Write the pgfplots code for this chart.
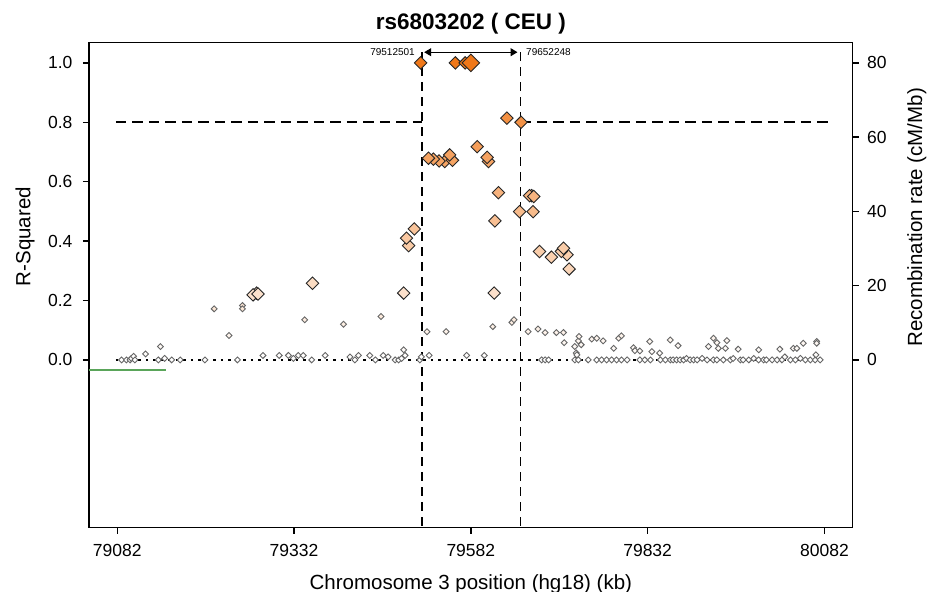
\documentclass[border=0pt]{standalone}
\usepackage{pgfplots}
\pgfplotsset{compat=1.18}
\usepackage{pgfplotstable}
\usepackage{fontspec}
\setmainfont{Liberation Sans}
\usetikzlibrary{arrows.meta}

\definecolor{snaporange}{RGB}{240,120,25}
\definecolor{recgreen}{RGB}{90,165,90}
\newcommand\tickfont{\fontsize{17.5}{20}\selectfont}
\newcommand\labfont{\fontsize{20.5}{24}\selectfont}

% SNPs with r^2 < 0.2 (small markers)
\pgfplotstableread{
kb rsq
79088 0.0
79095 0.0
79100 0.0
79102 0.005
79105 0.012
79107 0.0
79122 0.02
79140 0.0
79143 0.045
79149 0.005
79159 0.0
79171 0.0
79206 0.0
79219 0.172
79240 0.082
79252 0.0
79259 0.183
79259 0.172
79288 0.015
79311 0.015
79324 0.015
79331 0.005
79338 0.015
79345 0.015
79347 0.135
79357 0.0
79376 0.015
79402 0.120
79411 0.01
79418 0.0
79423 0.015
79439 0.015
79447 0.0
79455 0.146
79458 0.015
79465 0.01
79475 0.0
79480 0.0
79484 0.005
79487 0.034
79489 0.015
79510 0.0
79512 0.01
79520 0.095
79523 0.015
79547 0.095
79576 0.015
79601 0.015
79613 0.112
79640 0.126
79643 0.135
79663 0.095
79677 0.104
79682 0.0
79687 0.092
79687 0.0
79692 0.0
79703 0.092
79713 0.092
79714 0.058
79729 0.0
79729 0.045
79731 0.023
79732 0.017
79734 0.0
79734 0.064
79735 0.079
79738 0.051
79748 0.0
79753 0.070
79760 0.073
79760 0.0
79767 0.0
79769 0.064
79774 0.0
79781 0.0
79784 0.039
79788 0.0
79791 0.073
79795 0.081
79795 0.0
79803 0.0
79812 0.041
79814 0.031
79821 0.030
79821 0.0
79828 0.0
79835 0.062
79836 0.0
79838 0.028
79849 0.023
79850 0.0
79857 0.0
79864 0.067
79864 0.0
79868 0.0
79873 0.0
79875 0.048
79878 0.0
79883 0.0
79887 0.005
79892 0.0
79897 0.0
79902 0.0
79909 0.005
79916 0.0
79918 0.045
79925 0.073
79925 0.0
79930 0.058
79930 0.0
79932 0.039
79939 0.0
79942 0.039
79944 0.065
79949 0.0
79953 0.005
79960 0.036
79963 0.0
79967 0.0
79975 0.0
79982 0.005
79989 0.034
79989 0.0
79996 0.0
80000 0.0
80008 0.0
80015 0.0
80019 0.036
80022 0.0
80026 0.01
80034 0.0
80038 0.039
80041 0.0
80043 0.039
80048 0.005
80052 0.056
80055 0.0
80062 0.0
80069 0.0
80070 0.017
80071 0.062
80071 0.056
80076 0.0
}\lowsnps

% SNPs with r^2 >= 0.2 (large markers), ascending r^2
\pgfplotstableread{
kb rsq
79279 0.225
79274 0.219
79281 0.222
79487 0.225
79615 0.225
79358 0.258
79721 0.306
79696 0.346
79718 0.354
79679 0.365
79710 0.365
79713 0.376
79494 0.385
79491 0.410
79502 0.441
79616 0.468
79651 0.499
79670 0.499
79668 0.553
79665 0.553
79671 0.550
79621 0.563
79545 0.668
79607 0.668
79537 0.670
79556 0.672
79529 0.676
79522 0.679
79605 0.682
79552 0.690
79591 0.718
79653 0.800
79633 0.814
79511 1.0
79560 1.0
79574 1.0
}\highsnps

\begin{document}
\begin{tikzpicture}
\path[use as bounding box] (-89pt,-64.3pt) rectangle (841pt,527.7pt);
\begin{axis}[
  at={(0,0)}, anchor=south west,
  scale only axis, width=763.7pt, height=485pt,
  xmin=79042, xmax=80122, ymin=-0.565, ymax=1.068,
  xtick={79082,79332,79582,79832,80082},
  ytick={0,0.2,0.4,0.6,0.8,1.0},
  xtick pos=left, ytick pos=left,
  scaled x ticks=false,
  xticklabel={\pgfmathprintnumber[1000 sep={}]{\tick}},
  yticklabel={\pgfmathprintnumber[fixed,fixed zerofill,precision=1]{\tick}},
  /pgf/number format/assume math mode=true,
  tick label style={font=\tickfont},
  xticklabel style={yshift=-7pt},
  yticklabel style={xshift=-7pt},
  tick align=outside, major tick length=6pt,
  axis line style={line width=1.3pt},
  major tick style={line width=1.3pt, black},
  title={\bfseries rs6803202 ( CEU )},
  title style={font=\fontsize{22.5}{26}\selectfont, at={(axis description cs:0.5,1)}, anchor=base, yshift=7pt},
  xlabel={Chromosome 3 position (hg18) (kb)},
  xlabel style={font=\labfont, at={(axis description cs:0.5,0)}, anchor=base, yshift=-61.5pt},
  ylabel={R-Squared},
  ylabel style={font=\labfont, at={(axis description cs:0,0.6)}, anchor=center, yshift=64pt},
  colormap={snap}{rgb255(0cm)=(255,255,255); rgb255(1cm)=(240,120,25)},
  point meta min=0, point meta max=1,
]
% reference lines
\addplot[black, line width=1.8pt, dash pattern=on 2.5pt off 5pt] coordinates {(79080,0) (80080,0)};
\addplot[black, line width=1.8pt, dash pattern=on 10.5pt off 6pt] coordinates {(79080,0.8) (79512.5,0.8)};
\addplot[black, line width=1.8pt, dash pattern=on 10.5pt off 6pt] coordinates {(79652.2,0.8) (80090,0.8)};
\addplot[black, line width=1.8pt, dash pattern=on 9pt off 6pt] coordinates {(79512.5,1.036) (79512.5,-0.565)};
\addplot[black, line width=1.8pt, dash pattern=on 9pt off 6pt] coordinates {(79652.2,1.036) (79652.2,-0.565)};
% recombination rate trace
\addplot[recgreen, line width=1.2pt] coordinates {(79042,-0.034) (79151,-0.034)};
% gene region arrow
\draw[black, line width=1.1pt, {Triangle[length=7pt,width=8pt]}-{Triangle[length=7pt,width=8pt]}]
  (axis cs:79516,1.036) -- (axis cs:79648,1.036);
\node[anchor=east, font=\fontsize{10}{12}\selectfont, inner sep=0pt] at (axis cs:79503,1.036) {79512501};
\node[anchor=west, font=\fontsize{10}{12}\selectfont, inner sep=0pt] at (axis cs:79660,1.036) {79652248};
% SNPs
\addplot[scatter, only marks, mark=square*, mark size=2.1pt, point meta=y,
  scatter/use mapped color={draw=black!60, fill=mapped color},
  mark options={rotate=45, line width=0.9pt}] table[x=kb, y=rsq] {\lowsnps};
\addplot[scatter, only marks, mark=square*, mark size=4.4pt, point meta=y,
  scatter/use mapped color={draw=black!85, fill=mapped color},
  mark options={rotate=45, line width=0.9pt}] table[x=kb, y=rsq] {\highsnps};
\addplot[scatter, only marks, mark=square*, mark size=6.2pt, point meta=y,
  scatter/use mapped color={draw=black!85, fill=mapped color},
  mark options={rotate=45, line width=0.9pt}] coordinates {(79582,1.0)};
\end{axis}
\begin{axis}[
  at={(0,0)}, anchor=south west,
  scale only axis, width=763.7pt, height=485pt,
  xmin=79042, xmax=80122, ymin=-45.2, ymax=85.44,
  axis x line=none, axis y line*=right,
  ytick={0,20,40,60,80},
  /pgf/number format/assume math mode=true,
  tick label style={font=\tickfont},
  yticklabel style={xshift=5pt},
  tick align=outside, major tick length=6pt,
  axis line style={line width=1.3pt, -},
  major tick style={line width=1.3pt, black},
  ylabel={Recombination rate (cM/Mb)},
  ylabel style={font=\labfont, at={(axis description cs:1,0.64)}, anchor=center, yshift=-64pt},
]
\addplot[draw=none] coordinates {(79082,0)};
\end{axis}
\end{tikzpicture}
\end{document}
